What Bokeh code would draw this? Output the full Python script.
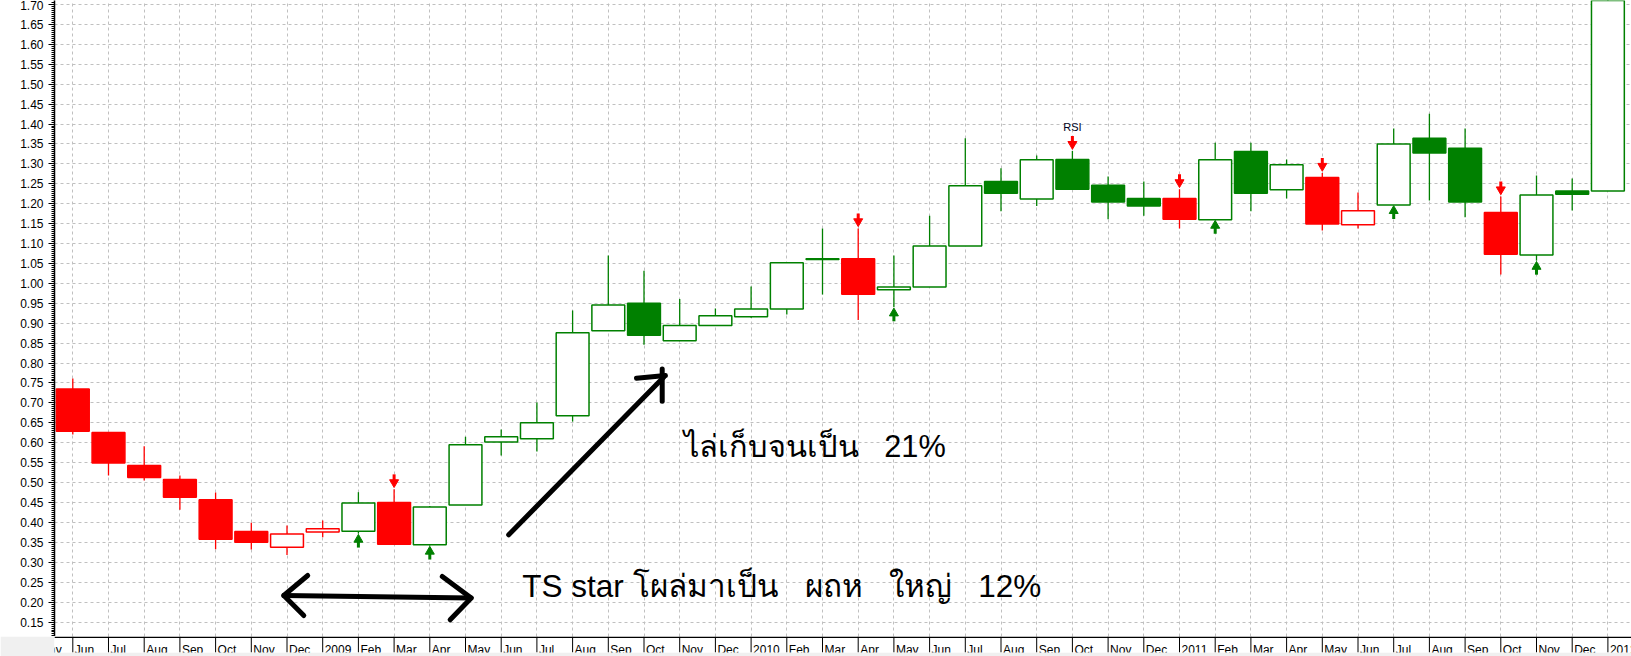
from bokeh.plotting import figure
from bokeh.layouts import column
from bokeh.models import (ColumnDataSource, FixedTicker, SingleIntervalTicker,
                          Range1d, Label, NumeralTickFormatter)
from bokeh.core.properties import value
from bokeh.embed import file_html
from bokeh.resources import INLINE

# ---------------- data (monthly bars, Jun 2008 .. Jan 2012) ----------------
# tick labels start one month before the first bar (May 2008, cut at the left edge)
tick_labels = ["May", "Jun", "Jul", "Aug", "Sep", "Oct", "Nov", "Dec",
               "2009", "Feb", "Mar", "Apr", "May", "Jun", "Jul", "Aug", "Sep", "Oct", "Nov", "Dec",
               "2010", "Feb", "Mar", "Apr", "May", "Jun", "Jul", "Aug", "Sep", "Oct", "Nov", "Dec",
               "2011", "Feb", "Mar", "Apr", "May", "Jun", "Jul", "Aug", "Sep", "Oct", "Nov", "Dec",
               "2012"]

opens = [0.735, 0.626, 0.543, 0.508, 0.457, 0.377, 0.338,
         0.376, 0.378, 0.450, 0.344, 0.444, 0.602, 0.610, 0.668, 0.881, 0.950, 0.856, 0.894,
         0.916, 0.936, 1.062, 1.062, 0.984, 0.991, 1.094, 1.256, 1.212, 1.311, 1.246, 1.213,
         1.213, 1.160, 1.331, 1.235, 1.266, 1.147, 1.197, 1.364, 1.339, 1.178, 1.071, 1.232,
         1.232]
highs = [0.761, 0.627, 0.591, 0.518, 0.475, 0.399, 0.392,
         0.405, 0.476, 0.483, 0.441, 0.615, 0.633, 0.701, 0.932, 1.070, 1.032, 0.961, 0.937,
         0.992, 1.052, 1.138, 1.138, 1.070, 1.170, 1.364, 1.289, 1.321, 1.332, 1.268, 1.256,
         1.236, 1.353, 1.353, 1.311, 1.277, 1.228, 1.389, 1.426, 1.389, 1.218, 1.271, 1.263,
         1.900]
lows = [0.621, 0.518, 0.505, 0.432, 0.333, 0.332, 0.318,
        0.363, 0.372, 0.345, 0.342, 0.444, 0.568, 0.578, 0.653, 0.881, 0.846, 0.856, 0.894,
        0.914, 0.922, 0.972, 0.908, 0.940, 0.991, 1.094, 1.181, 1.194, 1.236, 1.161, 1.170,
        1.138, 1.160, 1.181, 1.213, 1.133, 1.138, 1.197, 1.208, 1.166, 1.022, 1.057, 1.183,
        1.232]
closes = [0.629, 0.549, 0.513, 0.463, 0.358, 0.350, 0.371,
          0.384, 0.449, 0.345, 0.439, 0.595, 0.615, 0.650, 0.876, 0.946, 0.870, 0.894, 0.919,
          0.936, 1.052, 1.060, 0.973, 0.991, 1.094, 1.245, 1.226, 1.310, 1.236, 1.204, 1.194,
          1.161, 1.310, 1.226, 1.298, 1.149, 1.182, 1.350, 1.327, 1.204, 1.073, 1.222, 1.224,
          1.850]
trend = ["dn", "dn", "dn", "dn", "dn", "dn", "dn",
         "dn", "up", "dn", "up", "up", "up", "up", "up", "up", "up", "up", "up",
         "up", "up", "up", "dn", "up", "up", "up", "up", "up", "up", "up", "up",
         "dn", "up", "up", "up", "dn", "dn", "up", "up", "up", "dn", "up", "up",
         "up"]
sell_idx = [9, 22, 28, 31, 35, 40]
buy_idx = [8, 10, 23, 32, 37, 41]
rsi_idx = 28

note_1 = "ไล่เก็บจนเป็น\u00a0\u00a0\u00a021%"
note_2 = "TS star โผล่มาเป็น\u00a0\u00a0\u00a0ผถห\u00a0\u00a0\u00a0ใหญ่\u00a0\u00a0\u00a012%"

# ---------------- styling / layout ----------------
RED = "#ff0000"
GREEN = "#008000"
GRAY_BG = "#f0f0f0"
FIG_W = 1631
TOP_H = 636          # price panel, frame bottom = axis line
STRIP_H = 20         # month-label strip
STRIP_FRAME = 16
BORDER_L = 54
Y0, Y1 = 0.1137, 1.7100
X0, X1 = -0.5126, 43.661
DY = (Y1 - Y0) / TOP_H   # one pixel in price units

n = len(opens)
xs = list(range(n))
tick_pos = list(range(-1, n))
colors = [RED if t == "dn" else GREEN for t in trend]
fills = ["#ffffff" if c > o else col for o, c, col in zip(opens, closes, colors)]
tops = [max(o, c) for o, c in zip(opens, closes)]
bots = [min(o, c) for o, c in zip(opens, closes)]

src = ColumnDataSource(dict(x=xs, o=opens, h=highs, l=lows, c=closes, top=tops, bot=bots,
                            color=colors, fill=fills))
xr = Range1d(X0, X1)

p = figure(width=FIG_W, height=TOP_H, x_range=xr, y_range=Range1d(Y0, Y1),
           output_backend="svg", toolbar_location=None,
           min_border_left=BORDER_L, min_border_right=0, min_border_top=0,
           min_border_bottom=0)
p.outline_line_color = None
p.background_fill_color = "white"
p.border_fill_color = "white"

# y axis
p.yaxis.ticker = SingleIntervalTicker(interval=0.05, num_minor_ticks=10)
p.yaxis.formatter = NumeralTickFormatter(format="0.00")
p.yaxis.major_label_text_font = "Liberation Sans"
p.yaxis.major_label_text_font_size = "12px"
p.yaxis.major_label_text_color = "#000000"
p.yaxis.major_tick_out = 6
p.yaxis.major_tick_in = 0
p.yaxis.minor_tick_out = 3
p.yaxis.minor_tick_in = 0
p.yaxis.major_label_standoff = 5
p.yaxis.axis_line_width = 1.5
p.yaxis.axis_line_color = "black"

p.xaxis.visible = False
p.xgrid.ticker = FixedTicker(ticks=tick_pos)
p.grid.grid_line_color = "#c0c0c0"
p.grid.grid_line_dash = "3 3"
p.grid.grid_line_width = 1

# candles
p.segment(x0="x", y0="l", x1="x", y1="h", line_color="color", line_width=1.3, source=src)
p.vbar(x="x", width=0.92, top="top", bottom="bot", fill_color="fill", line_color="color",
       line_width=1.5, source=src)

# signal arrows
s_tip = [highs[i] + 4 * DY for i in sell_idx]
p.segment(x0=sell_idx, x1=sell_idx, y0=[t + 5 * DY for t in s_tip], y1=[t + 11 * DY for t in s_tip],
          line_color=RED, line_width=3)
p.scatter(x=sell_idx, y=[t + 3 * DY for t in s_tip], marker="inverted_triangle", size=9,
          fill_color=RED, line_color=RED)
b_tip = [lows[i] - 3 * DY for i in buy_idx]
p.segment(x0=buy_idx, x1=buy_idx, y0=[t - 5 * DY for t in b_tip], y1=[t - 11 * DY for t in b_tip],
          line_color=GREEN, line_width=3)
p.scatter(x=buy_idx, y=[t - 3 * DY for t in b_tip], marker="triangle", size=9,
          fill_color=GREEN, line_color=GREEN)

p.add_layout(Label(x=rsi_idx, y=highs[rsi_idx] + 24 * DY, text="RSI", text_align="center",
                   text_baseline="middle", text_font="Liberation Sans",
                   text_font_size="11px", text_color="#000022"))

# hand drawn arrows (annotation, in data coordinates)
arrow_xs = [[12.21, 16.55], [15.79, 16.60], [16.51, 16.51],
            [6.58, 5.91, 6.47], [5.91, 11.16], [10.35, 11.16, 10.57]]
arrow_ys = [[0.369, 0.7645], [0.762, 0.769], [0.785, 0.704],
            [0.2668, 0.2166, 0.1664], [0.2166, 0.2103], [0.2643, 0.2103, 0.1556]]
p.multi_line(xs=arrow_xs, ys=arrow_ys, line_color="black", line_width=5,
             line_cap="round", line_join="round")

p.add_layout(Label(x=17.11, y=0.591, text=note_1, text_align="left", text_baseline="alphabetic",
                   text_font="Liberation Sans", text_font_size="30.75px", text_color="black"))
p.add_layout(Label(x=12.59, y=0.2417, text=note_2, text_align="left", text_baseline="alphabetic",
                   text_font="Liberation Sans", text_font_size="31.5px", text_color="black"))

# ---------------- month-label strip ----------------
s = figure(width=FIG_W, height=STRIP_H, x_range=xr, y_range=Range1d(0, STRIP_FRAME),
           output_backend="svg", toolbar_location=None,
           min_border_left=BORDER_L, min_border_right=0, min_border_top=0,
           min_border_bottom=STRIP_H - STRIP_FRAME)
s.axis.visible = False
s.grid.visible = False
s.outline_line_color = None
s.background_fill_color = "white"
s.border_fill_color = GRAY_BG
s.segment(x0=tick_pos, x1=tick_pos, y0=[0] * len(tick_pos), y1=[STRIP_FRAME] * len(tick_pos),
          line_color="black", line_width=1)
s.segment(x0=[X0], x1=[X1], y0=[STRIP_FRAME - 0.75], y1=[STRIP_FRAME - 0.75],
          line_color="black", line_width=1.5)
s.text(x=tick_pos, y=[2.6] * len(tick_pos), text=tick_labels, x_offset=2,
       text_align="left", text_baseline="alphabetic",
       text_font=value("Liberation Sans"), text_font_size="12px",
       text_color="black")

layout = column(p, s, spacing=0)
open("out.html", "w").write(file_html(layout, INLINE))
